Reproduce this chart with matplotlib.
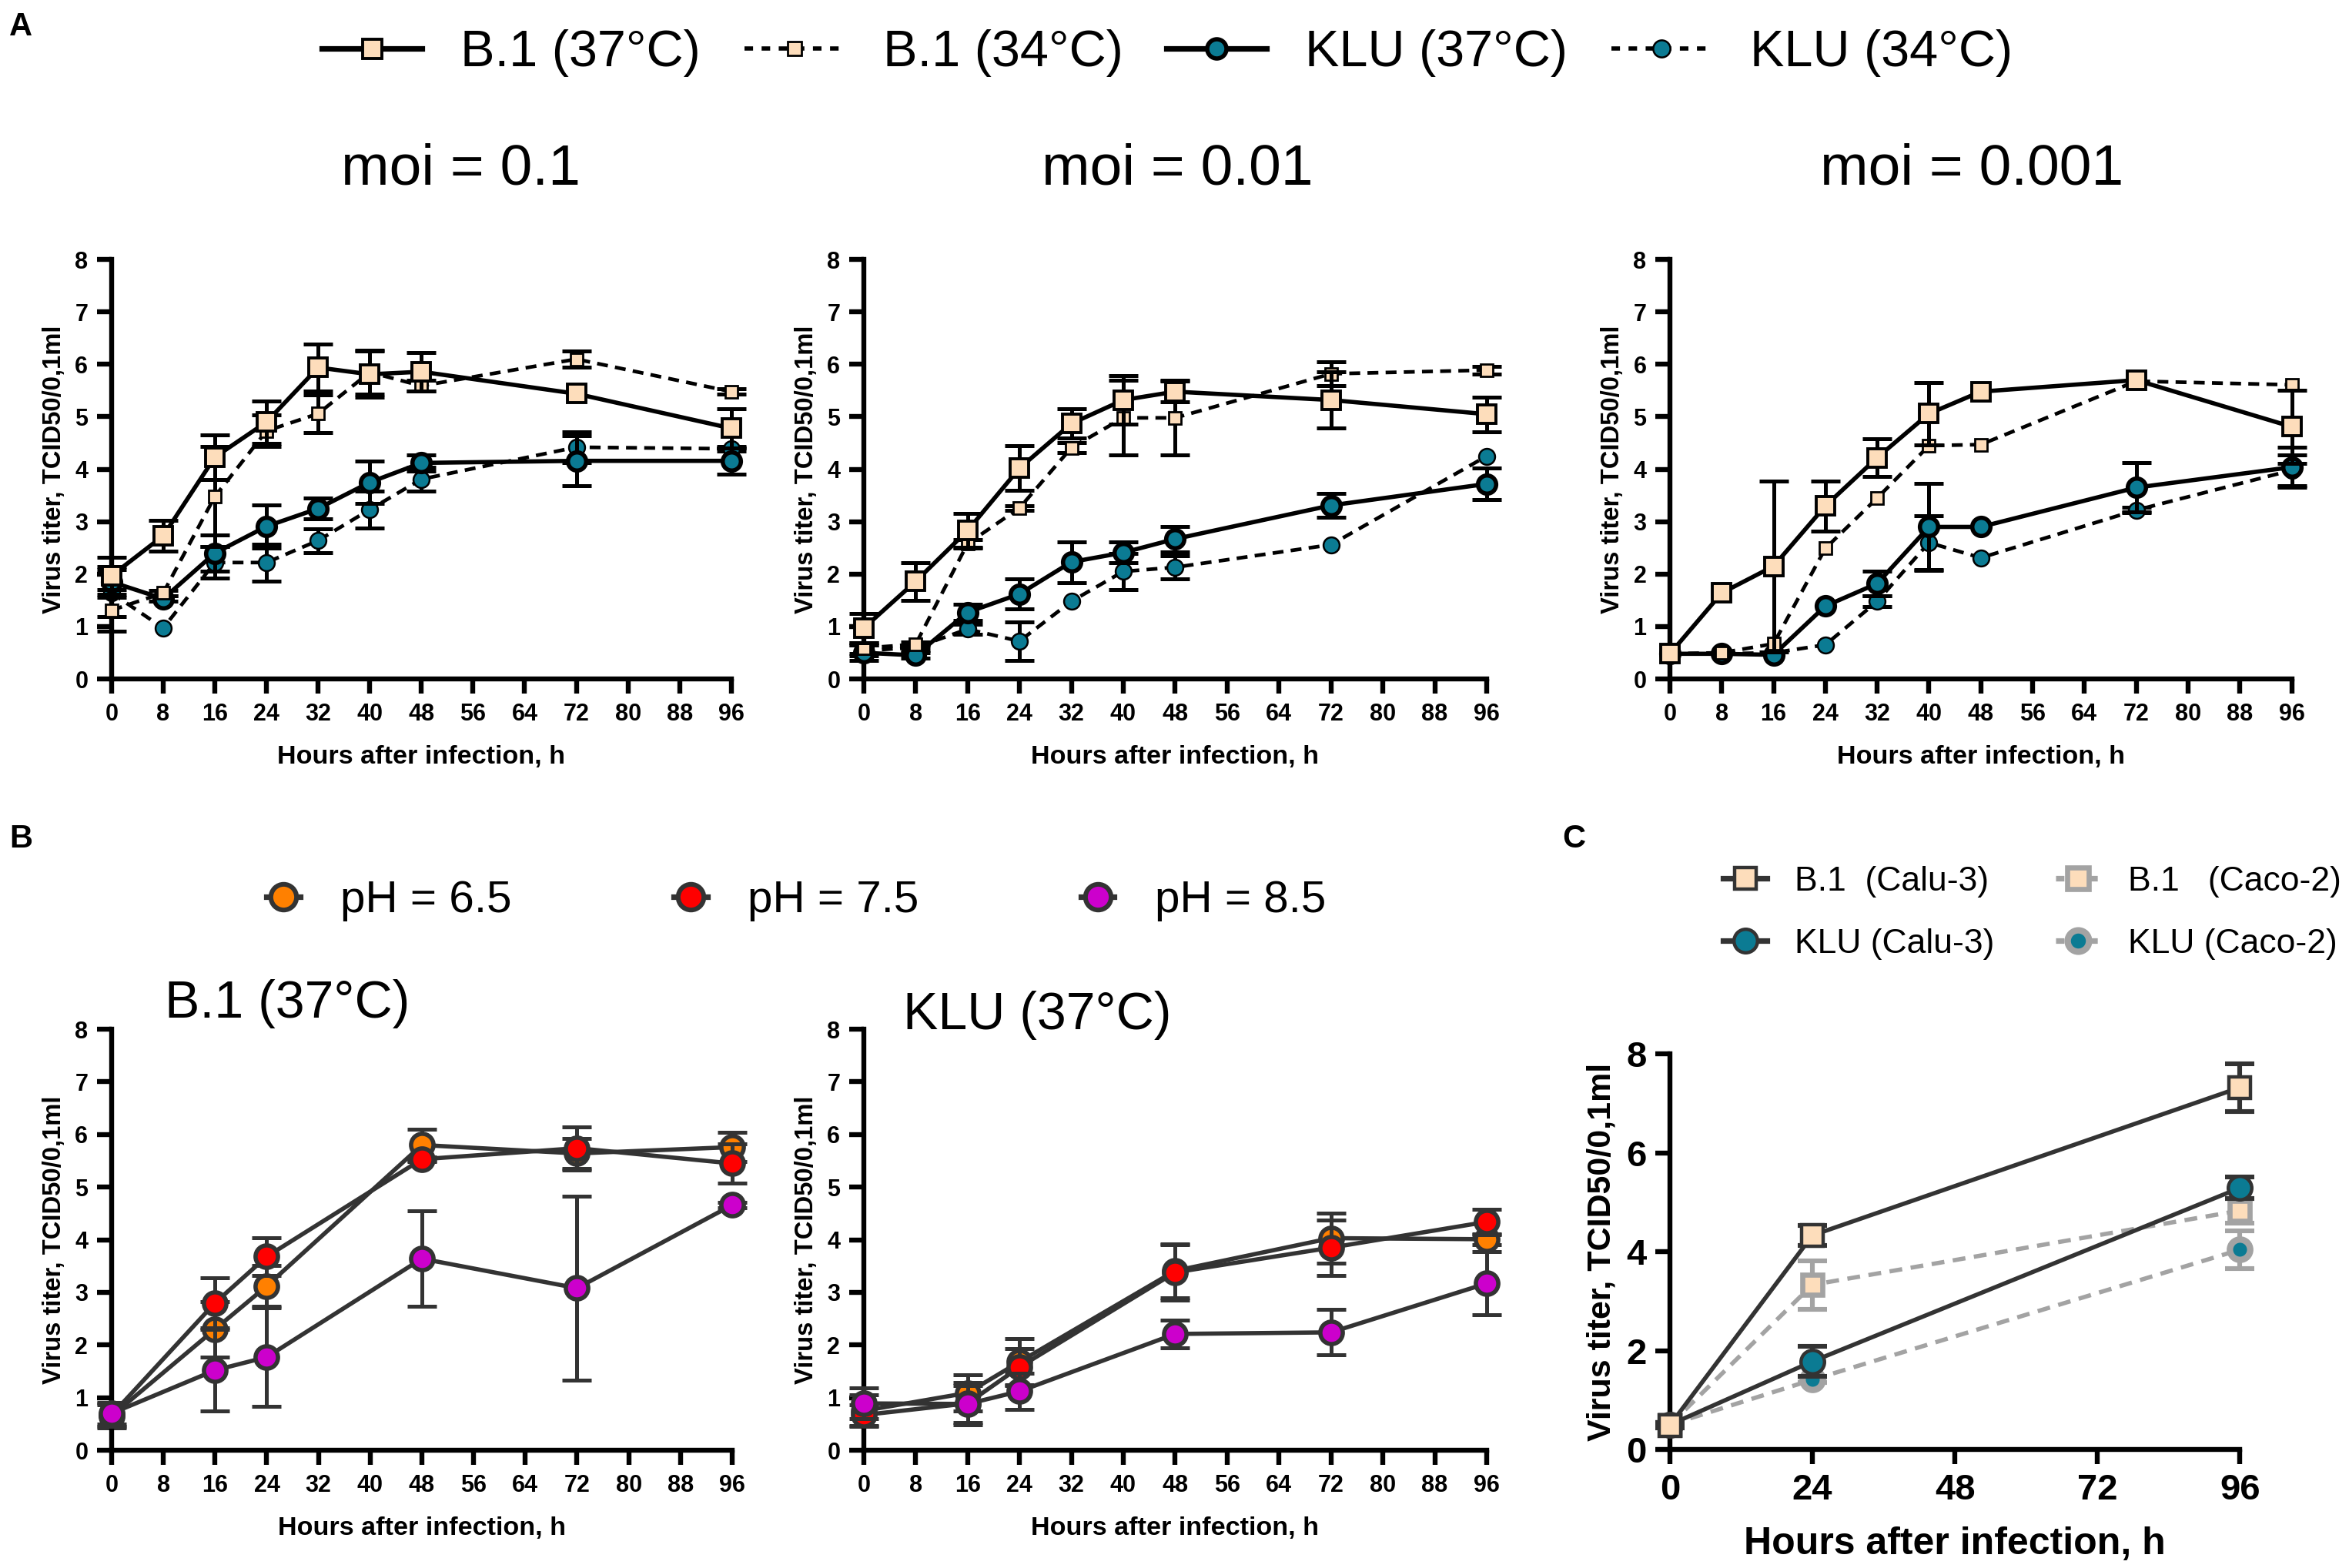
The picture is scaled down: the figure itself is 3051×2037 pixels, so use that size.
#Virus growth curves: moi series, pH series, cell lines

import numpy as np
import matplotlib
matplotlib.use("Agg")
import matplotlib.pyplot as plt
from matplotlib.lines import Line2D

plt.rcParams['font.family'] = ['Liberation Sans', 'DejaVu Sans']

#----------data----------
hours_a = [0, 8, 16, 24, 32, 40, 48, 72, 96]
moi_titles = ["moi = 0.1", "moi = 0.01", "moi = 0.001"]

b1_37 = [[1.97, 2.73, 4.23, 4.90, 5.94, 5.81, 5.86, 5.44, 4.78],
         [0.97, 1.86, 2.83, 4.02, 4.87, 5.32, 5.48, 5.32, 5.05],
         [0.48, 1.64, 2.15, 3.30, 4.22, 5.06, 5.48, 5.70, 4.81]]
b1_37_err = [[0.35, 0.29, 0.42, 0.40, 0.45, 0.44, 0.37, 0.0, 0.37],
             [0.28, 0.36, 0.32, 0.43, 0.28, 0.46, 0.20, 0.54, 0.33],
             [0.0, 0.0, 1.63, 0.48, 0.36, 0.60, 0.0, 0.0, 0.70]]
b1_34 = [[1.31, 1.64, 3.48, 4.73, 5.06, 5.85, 5.59, 6.10, 5.48],
         [0.59, 0.66, 2.58, 3.26, 4.41, 4.98, 4.98, 5.82, 5.89],
         [0.48, 0.50, 0.67, 2.49, 3.45, 4.45, 4.47, 5.68, 5.61]]
b1_34_err = [[0.40, 0.05, 0.95, 0.30, 0.36, 0.42, 0.10, 0.15, 0.05],
             [0.10, 0.05, 0.08, 0.05, 0.10, 0.71, 0.71, 0.23, 0.07],
             [0.0, 0.0, 0.0, 0.0, 0.0, 0.0, 0.0, 0.0, 0.0]]
klu_37 = [[1.85, 1.53, 2.40, 2.91, 3.25, 3.75, 4.12, 4.16, 4.16],
          [0.50, 0.45, 1.27, 1.62, 2.23, 2.41, 2.67, 3.31, 3.72],
          [0.48, 0.48, 0.46, 1.39, 1.82, 2.90, 2.90, 3.65, 4.04]]
klu_37_err = [[0.30, 0.05, 0.35, 0.41, 0.20, 0.40, 0.15, 0.48, 0.25],
              [0.15, 0.05, 0.15, 0.29, 0.39, 0.20, 0.24, 0.23, 0.30],
              [0.0, 0.0, 0.0, 0.0, 0.23, 0.83, 0.0, 0.47, 0.38]]
klu_34 = [[1.64, 0.97, 2.22, 2.22, 2.64, 3.23, 3.81, 4.42, 4.39],
          [0.54, 0.60, 0.95, 0.72, 1.48, 2.05, 2.13, 2.56, 4.25],
          [0.48, 0.48, 0.50, 0.65, 1.48, 2.60, 2.31, 3.22, 3.98]]
klu_34_err = [[0.45, 0.0, 0.30, 0.35, 0.23, 0.35, 0.23, 0.30, 0.05],
              [0.10, 0.05, 0.10, 0.36, 0.0, 0.34, 0.22, 0.0, 0.0],
              [0.0, 0.0, 0.0, 0.0, 0.10, 0.52, 0.0, 0.05, 0.30]]

hours_b = [0, 16, 24, 48, 72, 96]
ph_labels = ["pH = 6.5", "pH = 7.5", "pH = 8.5"]
b_titles = ["B.1 (37°C)", "KLU (37°C)"]
ph_b1 = [[0.65, 2.30, 3.12, 5.80, 5.64, 5.76],
         [0.67, 2.80, 3.68, 5.53, 5.74, 5.45],
         [0.70, 1.52, 1.77, 3.64, 3.08, 4.66]]
ph_b1_err = [[0.22, 0.53, 0.39, 0.30, 0.28, 0.28],
             [0.22, 0.48, 0.36, 0.05, 0.41, 0.37],
             [0.20, 0.77, 0.93, 0.91, 1.75, 0.05]]
ph_klu = [[0.75, 1.09, 1.68, 3.41, 4.03, 4.01],
          [0.67, 0.89, 1.58, 3.38, 3.85, 4.34],
          [0.89, 0.88, 1.12, 2.21, 2.24, 3.17]]
ph_klu_err = [[0.30, 0.35, 0.44, 0.51, 0.47, 0.10],
              [0.20, 0.40, 0.35, 0.53, 0.53, 0.24],
              [0.29, 0.35, 0.35, 0.26, 0.43, 0.60]]

hours_c = [0, 24, 96]
b1_calu = [0.49, 4.33, 7.32]
b1_calu_err = [0.05, 0.20, 0.48]
klu_calu = [0.50, 1.78, 5.29]
klu_calu_err = [0.05, 0.30, 0.22]
b1_caco = [0.50, 3.33, 4.83]
b1_caco_err = [0.05, 0.49, 0.25]
klu_caco = [0.50, 1.41, 4.04]
klu_caco_err = [0.05, 0.05, 0.38]

#----------colours----------
PEACH = "#FDDDBB"
TEAL = "#0B7B93"
DARK = "#333333"
GREY = "#A3A3A3"
PH_COLORS = ["#FF8000", "#FF0000", "#CC00CC"]

YLABEL = "Virus titer, TCID50/0,1ml"
XLABEL = "Hours after infection, h"


def draw(ax, x, y, e, fc, marker, ms, ls, lw, lc, mec, mew, z, cap=7, elw=1.8):
    x = np.array(x); y = np.array(y); e = np.array(e)
    keep = e > 0
    if keep.any():
        eb = ax.errorbar(x[keep], y[keep], yerr=e[keep], fmt='none', ecolor=lc,
                         elinewidth=elw, capsize=cap, capthick=elw, zorder=z)
        for art in eb.get_children():
            art.set_clip_on(False)
    ax.plot(x, y, ls=ls, lw=lw, color=lc, marker=marker, ms=ms, mfc=fc,
            mec=mec, mew=mew, zorder=z + 0.5, clip_on=False)


def style(ax, xticks, yticks, fs_tick, fs_xlab, fs_ylab):
    ax.spines['top'].set_visible(False)
    ax.spines['right'].set_visible(False)
    for s in ['left', 'bottom']:
        ax.spines[s].set_linewidth(2.3)
    ax.set_xlim(0, 96)
    ax.set_ylim(0, 8)
    ax.set_xticks(xticks)
    ax.set_yticks(yticks)
    ax.tick_params(direction='out', length=7, width=2.3, labelsize=fs_tick, pad=4)
    for t in ax.get_xticklabels() + ax.get_yticklabels():
        t.set_fontweight('bold')
    ax.set_xlabel(XLABEL, fontsize=fs_xlab, fontweight='bold', labelpad=9)
    ax.set_ylabel(YLABEL, fontsize=fs_ylab, fontweight='bold', labelpad=4)


fig = plt.figure(figsize=(15.255, 10.185), dpi=200)

#----------Panel A----------
a_rects = [[0.0475, 0.567, 0.2638, 0.2675],
           [0.3677, 0.567, 0.2652, 0.2675],
           [0.7109, 0.567, 0.2647, 0.2675]]
title_x = [0.564, 0.503, 0.485]
for i in range(3):
    ax = fig.add_axes(a_rects[i])
    draw(ax, hours_a, klu_34[i], klu_34_err[i], TEAL, 'o', 7.5, (0, (3, 2)), 1.7, 'black', 'black', 0.9, 2)
    draw(ax, hours_a, klu_37[i], klu_37_err[i], TEAL, 'o', 8.5, '-', 2.0, 'black', 'black', 2.0, 3)
    draw(ax, hours_a, b1_34[i], b1_34_err[i], PEACH, 's', 5.5, (0, (3, 2)), 1.7, 'black', 'black', 1.0, 4)
    draw(ax, hours_a, b1_37[i], b1_37_err[i], PEACH, 's', 8.5, '-', 2.0, 'black', 'black', 1.4, 5)
    style(ax, range(0, 97, 8), range(0, 9), 11, 12.3, 11.8)
    ax.text(title_x[i], 1.215, moi_titles[i], transform=ax.transAxes,
            ha='center', va='center', fontsize=27)

a_handles = [
    Line2D([], [], color='black', lw=2.6, marker='s', ms=9, mfc=PEACH, mec='black', mew=1.4),
    Line2D([], [], color='black', lw=2.0, ls=(0, (2, 2)), marker='s', ms=6.5, mfc=PEACH, mec='black', mew=1.0),
    Line2D([], [], color='black', lw=2.6, marker='o', ms=9, mfc=TEAL, mec='black', mew=2.0),
    Line2D([], [], color='black', lw=2.0, ls=(0, (2, 2)), marker='o', ms=8, mfc=TEAL, mec='black', mew=0.9)]
fig.legend(a_handles, ["B.1 (37°C)", "B.1 (34°C)", "KLU (37°C)", "KLU (34°C)"],
           loc='center', bbox_to_anchor=(0.497, 0.966), ncol=4, frameon=False,
           fontsize=24, handlelength=1.95, handletextpad=0.75, columnspacing=0.85)

#----------Panel B----------
b_rects = [[0.0475, 0.0751, 0.2642, 0.2685],
           [0.3677, 0.0751, 0.2652, 0.2685]]
b_data = [(ph_b1, ph_b1_err), (ph_klu, ph_klu_err)]
b_title_pos = [(0.086, 1.06), (0.063, 1.033)]
for i in range(2):
    ax = fig.add_axes(b_rects[i])
    vals, errs = b_data[i]
    for j in [2, 0, 1]:
        draw(ax, hours_b, vals[j], errs[j], PH_COLORS[j], 'o', 10.5, '-', 2.0,
             DARK, DARK, 2.0, 2 + j)
    style(ax, range(0, 97, 8), range(0, 9), 11, 12.3, 11.8)
    ax.text(b_title_pos[i][0], b_title_pos[i][1], b_titles[i], transform=ax.transAxes,
            ha='left', va='center', fontsize=24.5)

b_handles = [Line2D([], [], color=DARK, lw=2.6, marker='o', ms=12, mfc=c, mec=DARK, mew=2.2)
             for c in PH_COLORS]
fig.legend(b_handles, ph_labels, loc='center', bbox_to_anchor=(0.339, 0.4256), ncol=3,
           frameon=False, fontsize=21, handlelength=0.75, handletextpad=0.9, columnspacing=3.6)

#----------Panel C----------
ax = fig.add_axes([0.7109, 0.0756, 0.2427, 0.2523])
draw(ax, hours_c, klu_caco, klu_caco_err, TEAL, 'o', 9.5, (0, (3, 2)), 2.0, GREY, GREY, 3.0, 2, elw=2.2)
draw(ax, hours_c, b1_caco, b1_caco_err, PEACH, 's', 9.5, (0, (3, 2)), 2.0, GREY, GREY, 2.4, 3, elw=2.2)
draw(ax, hours_c, klu_calu, klu_calu_err, TEAL, 'o', 11, '-', 2.0, DARK, DARK, 1.6, 4, elw=2.2)
draw(ax, hours_c, b1_calu, b1_calu_err, PEACH, 's', 10, '-', 2.0, DARK, DARK, 1.6, 5, elw=2.2)
style(ax, range(0, 97, 24), range(0, 9, 2), 17, 18, 15.5)

c_handles = [
    Line2D([], [], color=DARK, lw=2.6, marker='s', ms=10, mfc=PEACH, mec=DARK, mew=1.6),
    Line2D([], [], color=DARK, lw=2.6, marker='o', ms=11, mfc=TEAL, mec=DARK, mew=1.6),
    Line2D([], [], color=GREY, lw=2.6, ls=(0, (1.5, 1.5)), marker='s', ms=10, mfc=PEACH, mec=GREY, mew=2.4),
    Line2D([], [], color=GREY, lw=2.6, ls=(0, (1.5, 1.5)), marker='o', ms=10, mfc=TEAL, mec=GREY, mew=3.0)]
fig.legend(c_handles, ["B.1  (Calu-3)", "KLU (Calu-3)", "B.1   (Caco-2)", "KLU (Caco-2)"],
           loc='center', bbox_to_anchor=(0.865, 0.418), ncol=2, frameon=False,
           fontsize=16, handlelength=1.3, handletextpad=0.8, columnspacing=1.8, labelspacing=0.9)

#----------panel letters----------
fig.text(0.004, 0.983, "A", fontsize=15, fontweight='bold', va='center')
fig.text(0.004, 0.465, "B", fontsize=15, fontweight='bold', va='center')
fig.text(0.665, 0.465, "C", fontsize=15, fontweight='bold', va='center')

fig.savefig("out.png", dpi=200)
